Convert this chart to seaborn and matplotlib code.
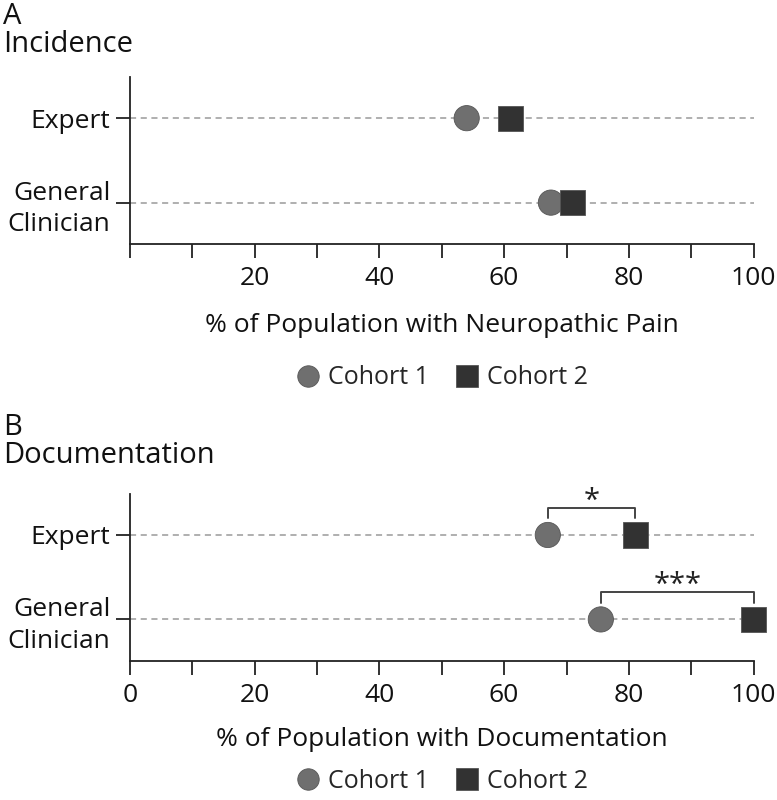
import pandas as pd
import matplotlib.pyplot as plt
import seaborn as sns

sns.set_style('white')
plt.rcParams['font.family'] = ['Open Sans', 'DejaVu Sans']

groups = ['Expert', 'General\nClinician']
incid_c1 = [54, 67.5]
incid_c2 = [61, 71]
doc_c1 = [67, 75.5]
doc_c2 = [81, 100]
signif = ['*', '***']

cols = {'Cohort 1': '#6f6f6f', 'Cohort 2': '#323232'}
marks = {'Cohort 1': 'o', 'Cohort 2': 's'}
FS = 19


def make_df(c1, c2):
    rows = []
    for g, a, b in zip(groups, c1, c2):
        rows.append({'group': g, 'val': a, 'cohort': 'Cohort 1'})
        rows.append({'group': g, 'val': b, 'cohort': 'Cohort 2'})
    return pd.DataFrame(rows)


def panel(ax, df, xlabel, show_zero, lab_y, leg_y):
    for i in range(len(groups)):
        ax.plot([0, 100], [i, i], ls=(0, (4, 3)), color='#9a9a9a', lw=1.1, zorder=1)
    sns.scatterplot(df, x='val', y='group', hue='cohort', style='cohort',
                    palette=cols, markers=marks, s=330, linewidth=0.6,
                    edgecolor='#555555', ax=ax, zorder=3)
    for c in ax.collections:
        c.set_clip_on(False)
    ax.set_xlim(0, 100)
    ax.set_ylim(1.49, -0.49)
    ax.set_xticks(range(0, 101, 10))
    ax.set_xticklabels([('' if (v == 0 and not show_zero) else str(v)) if v % 20 == 0 else ''
                        for v in range(0, 101, 10)])
    ax.set_yticks(range(len(groups)))
    ax.set_yticklabels(groups, linespacing=1.35)
    ax.tick_params(axis='both', bottom=True, left=True, labelsize=FS, length=10, width=1.3,
                   direction='out', color='#222222', labelcolor='#111111', pad=4)
    ax.tick_params(axis='x', pad=6)
    for s in ['top', 'right']:
        ax.spines[s].set_visible(False)
    for s in ['left', 'bottom']:
        ax.spines[s].set_color('#222222')
        ax.spines[s].set_linewidth(1.3)
    ax.set_xlabel(xlabel, fontsize=FS, color='#111111', va='center')
    ax.xaxis.set_label_coords(0.5, lab_y)
    ax.set_ylabel('')
    ax.legend(loc='center', bbox_to_anchor=(0.5, leg_y), ncol=2, frameon=False,
              fontsize=18, handlelength=1.0, handletextpad=0.3, columnspacing=1.05,
              markerscale=0.85, borderpad=0.0)


fig = plt.figure(figsize=(7.77, 8), dpi=100)
ax1 = fig.add_axes([0.167, 0.695, 0.803, 0.209])
ax2 = fig.add_axes([0.167, 0.174, 0.803, 0.209])

panel(ax1, make_df(incid_c1, incid_c2), '% of Population with Neuropathic Pain', False,
      -0.485, -0.80)
panel(ax2, make_df(doc_c1, doc_c2), '% of Population with Documentation', True,
      -0.47, -0.72)

# significance brackets
for i, (a, b, star) in enumerate(zip(doc_c1, doc_c2, signif)):
    top = i - 0.325
    ax2.plot([a, a, b, b], [i - 0.2, top, top, i - 0.2], color='#444444', lw=1.4,
             clip_on=False)
    ax2.text((a + b) / 2, top + 0.1, star, ha='center', va='bottom', fontsize=21,
             color='#222222')

fig.text(0.004, 0.997, 'A\nIncidence', fontsize=21, va='top', ha='left', color='#111111',
         linespacing=0.95)
fig.text(0.004, 0.484, 'B\nDocumentation', fontsize=21, va='top', ha='left', color='#111111',
         linespacing=0.95)

fig.savefig('out.png', dpi=100)
